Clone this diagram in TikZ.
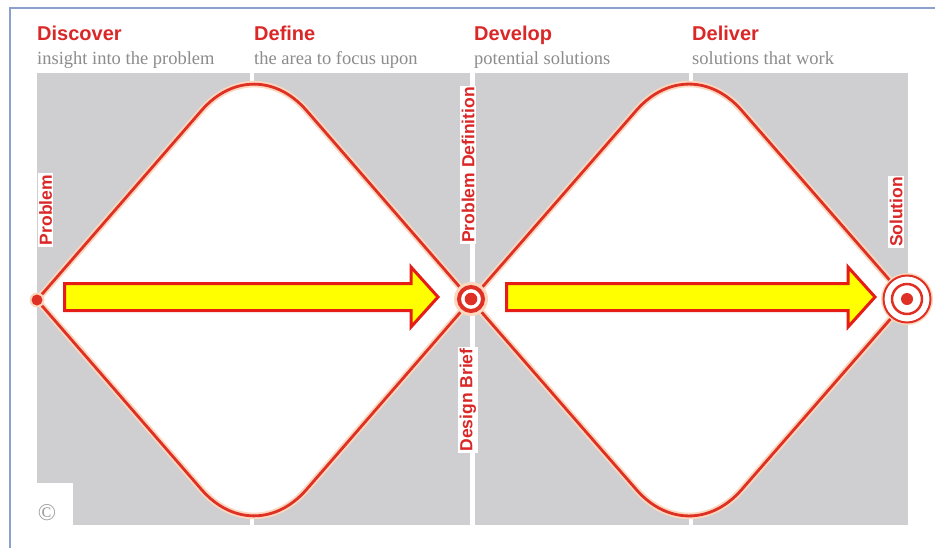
\documentclass[tikz,border=0pt]{standalone}
\usepackage{fontspec}
\setmainfont{Liberation Serif}
\setsansfont{Liberation Sans}
\usetikzlibrary{calc}
\definecolor{dred}{RGB}{222,48,36}
\definecolor{hred}{RGB}{218,40,40}
\definecolor{panel}{RGB}{207,207,210}
\definecolor{frameblue}{RGB}{140,160,205}
\definecolor{subgray}{RGB}{140,140,140}
\definecolor{glow}{RGB}{252,215,190}
\definecolor{ayellow}{RGB}{255,255,0}
\definecolor{ared}{RGB}{230,28,22}
\begin{document}
\begin{tikzpicture}[x=1pt,y=-1pt,
  head/.style={font=\sffamily\bfseries\fontsize{20}{22}\selectfont, text=hred, anchor=base west, inner sep=0pt},
  sub/.style={font=\fontsize{18.5}{20}\selectfont, text=subgray, anchor=base west, inner sep=0pt},
  vlabel/.style={font=\sffamily\bfseries\fontsize{17.5}{18}\selectfont, text=hred, fill=white, rotate=90, inner sep=1.5pt},
  dline/.style={draw=dred, line width=2.8pt, line join=round},
  halo/.style={draw=glow, line width=6.5pt, line join=round},
  bigarrow/.style={fill=ayellow, draw=ared, line width=3pt, line join=miter},
  sep/.style={fill=white},
]
\useasboundingbox (0,0) rectangle (935,547);
\fill[white] (0,0) rectangle (935,547);
% frame
\draw[frameblue, line width=1.5pt] (10,560) -- (10,8) -- (945,8);
% grey panels
\fill[panel] (37,72.5) rectangle (908,525);
\fill[sep] (250,72.5) rectangle (254,525);
\fill[sep] (470,72.5) rectangle (474.5,525);
\fill[sep] (689,72.5) rectangle (693,525);
\fill[sep] (37,483) rectangle (73,525.5);
% diamonds
\foreach \lx/\rx in {37/471, 471/907}{
  \coordinate (L) at (\lx,300);
  \coordinate (R) at (\rx,300);
  \coordinate (T) at ({(\lx+\rx)/2},50);
  \coordinate (Bt) at ({(\lx+\rx)/2},550);
  \coordinate (A1) at ($(T)!80pt!(L)$);
  \coordinate (A2) at ($(T)!80pt!(R)$);
  \coordinate (C1) at ($(A1)!0.58!(T)$);
  \coordinate (C2) at ($(A2)!0.58!(T)$);
  \coordinate (B1) at ($(Bt)!80pt!(L)$);
  \coordinate (B2) at ($(Bt)!80pt!(R)$);
  \coordinate (D1) at ($(B1)!0.58!(Bt)$);
  \coordinate (D2) at ($(B2)!0.58!(Bt)$);
  \fill[white] (L) -- (A1) .. controls (C1) and (C2) .. (A2) -- (R) -- (B2) .. controls (D2) and (D1) .. (B1) -- cycle;
  \draw[halo] (L) -- (A1) .. controls (C1) and (C2) .. (A2) -- (R) -- (B2) .. controls (D2) and (D1) .. (B1) -- cycle;
  \draw[dline] (L) -- (A1) .. controls (C1) and (C2) .. (A2) -- (R) -- (B2) .. controls (D2) and (D1) .. (B1) -- cycle;
}
% arrows
\draw[bigarrow] (64.5,283.5) -- (411,283.5) -- (411,267) -- (438,297) -- (411,327) -- (411,310.5) -- (64.5,310.5) -- cycle;
\draw[bigarrow] (506.5,283.5) -- (848,283.5) -- (848,267) -- (875,297) -- (848,327) -- (848,310.5) -- (506.5,310.5) -- cycle;
% start point
\fill[glow] (37,300) circle (7.5);
\fill[dred] (37,300) circle (5.5);
% middle circle
\fill[glow] (471,299) circle (17);
\draw[dred, line width=4pt, fill=white] (471,299) circle (12);
\fill[dred] (471,299) circle (6.3);
% target
\fill[glow] (907,299) circle (26);
\draw[dred, line width=2pt, fill=white] (907,299) circle (23.5);
\draw[dred, line width=2.5pt] (907,299) circle (15);
\fill[dred] (907,299) circle (6);
% vertical labels
\node[vlabel] (problem) at (45.5,210) {Problem};
\node[vlabel] (probdef) at (468,165) {Problem Definition};
\node[vlabel] (brief) at (468,400) {Design Brief};
\node[vlabel] (solution) at (896,212) {Solution};
% headers
\node[head] (discover) at (37,40) {Discover};
\node[sub] (discoversub) at (37,64) {insight into the problem};
\node[head] (define) at (254,40) {Define};
\node[sub] (definesub) at (254,64) {the area to focus upon};
\node[head] (develop) at (474,40) {Develop};
\node[sub] (developsub) at (474,64) {potential solutions};
\node[head] (deliver) at (692,40) {Deliver};
\node[sub] (deliversub) at (692,64) {solutions that work};
% copyright
\node[font=\fontsize{24}{24}\selectfont, text=subgray!85, inner sep=0pt] (copy) at (47,513) {©};
\end{tikzpicture}
\end{document}
